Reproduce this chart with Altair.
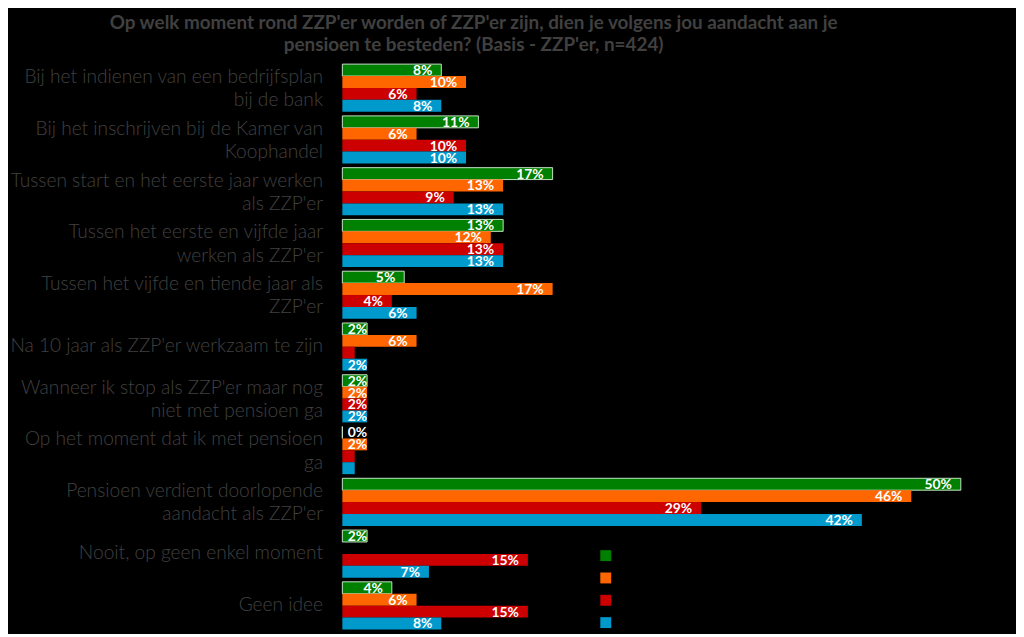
import altair as alt
import pandas as pd

categories = [
    "Bij het indienen van een bedrijfsplan\nbij de bank",
    "Bij het inschrijven bij de Kamer van\nKoophandel",
    "Tussen start en het eerste jaar werken\nals ZZP'er",
    "Tussen het eerste en vijfde jaar\nwerken als ZZP'er",
    "Tussen het vijfde en tiende jaar als\nZZP'er",
    "Na 10 jaar als ZZP'er werkzaam te zijn",
    "Wanneer ik stop als ZZP'er maar nog\nniet met pensioen ga",
    "Op het moment dat ik met pensioen\nga",
    "Pensioen verdient doorlopende\naandacht als ZZP'er",
    "Nooit, op geen enkel moment",
    "Geen idee",
]
series = ["Serie 1", "Serie 2", "Serie 3", "Serie 4"]
colors = ["#008000", "#FF6600", "#CC0000", "#0099CC"]

green = [8, 11, 17, 13, 5, 2, 2, 0, 50, 2, 4]
orange = [10, 6, 13, 12, 17, 6, 2, 2, 46, 0, 6]
red = [6, 10, 9, 13, 4, 1, 2, 1, 29, 15, 15]
blue = [8, 10, 13, 13, 6, 2, 2, 1, 42, 7, 8]
# labels shown in the chart (empty = no label)
green_lbl = ["8%", "11%", "17%", "13%", "5%", "2%", "2%", "0%", "50%", "2%", "4%"]
orange_lbl = ["10%", "6%", "13%", "12%", "17%", "6%", "2%", "2%", "46%", "", "6%"]
red_lbl = ["6%", "10%", "9%", "13%", "4%", "", "2%", "", "29%", "15%", "15%"]
blue_lbl = ["8%", "10%", "13%", "13%", "6%", "2%", "2%", "", "42%", "7%", "8%"]

rows = []
for s, vals, lbls in zip(series, [green, orange, red, blue], [green_lbl, orange_lbl, red_lbl, blue_lbl]):
    for c, v, l in zip(categories, vals, lbls):
        rows.append({"cat": c, "serie": s, "value": v, "label": l,
                     "lpos": max(v - 0.72, 2.0)})
df = pd.DataFrame(rows)

FONT = "Lato"

yenc = alt.Y("cat:N", sort=categories, title=None,
             scale=alt.Scale(paddingInner=0.08, paddingOuter=0.04),
             axis=alt.Axis(labelExpr="split(datum.label, '\\n')", labelAlign="right",
                           labelBaseline="middle", labelFontSize=19.3, labelColor="#404040",
                           labelFont=FONT, labelFontWeight=300, labelLineHeight=23.5,
                           labelPadding=20,
                           labelOffset={"condition": {"test": "indexof(datum.value, '\\n') >= 0",
                                                      "value": -11}, "value": -1},
                           ticks=False, domain=False, labelLimit=400))
yoff = alt.YOffset("serie:N", sort=series)

bars = alt.Chart(df).mark_bar().encode(
    x=alt.X("value:Q", scale=alt.Scale(domain=[0, 53.5], nice=False), axis=None),
    y=yenc,
    yOffset=yoff,
    color=alt.Color("serie:N", sort=series, scale=alt.Scale(domain=series, range=colors),
                    legend=alt.Legend(orient="none", legendX=260, legendY=492, title=None,
                                      symbolType="square", symbolSize=121,
                                      symbolStrokeWidth=0, labelColor="#000000",
                                      labelFontSize=11, rowPadding=10.5, padding=0)),
    stroke=alt.condition(alt.datum.serie == "Serie 1", alt.value("#c4e4c4"), alt.value("transparent")),
    strokeWidth=alt.value(1),
)

text = alt.Chart(df).mark_text(align="right", baseline="middle", font=FONT,
                               fontWeight="bold", fontSize=14, color="white", dy=1).encode(
    x=alt.X("lpos:Q"),
    y=alt.Y("cat:N", sort=categories),
    yOffset=yoff,
    text="label:N",
)

chart = alt.layer(bars, text).properties(
    width=667, height=574,
    background="#000000",
    padding={"left": 0, "top": 4, "right": 12, "bottom": 0},
    title=alt.TitleParams(
        ["Op welk moment rond ZZP'er worden of ZZP'er zijn, dien je volgens jou aandacht aan je",
         "pensioen te besteden? (Basis - ZZP'er, n=424)"],
        font=FONT, fontSize=19, fontWeight="bold", color="#404040",
        anchor="middle", frame="bounds", lineHeight=22, offset=7, dx=-33),
).configure(font=FONT).configure_view(strokeWidth=0, stroke=None)

chart.save("out.html", embed_options={"renderer": "svg", "actions": False})
